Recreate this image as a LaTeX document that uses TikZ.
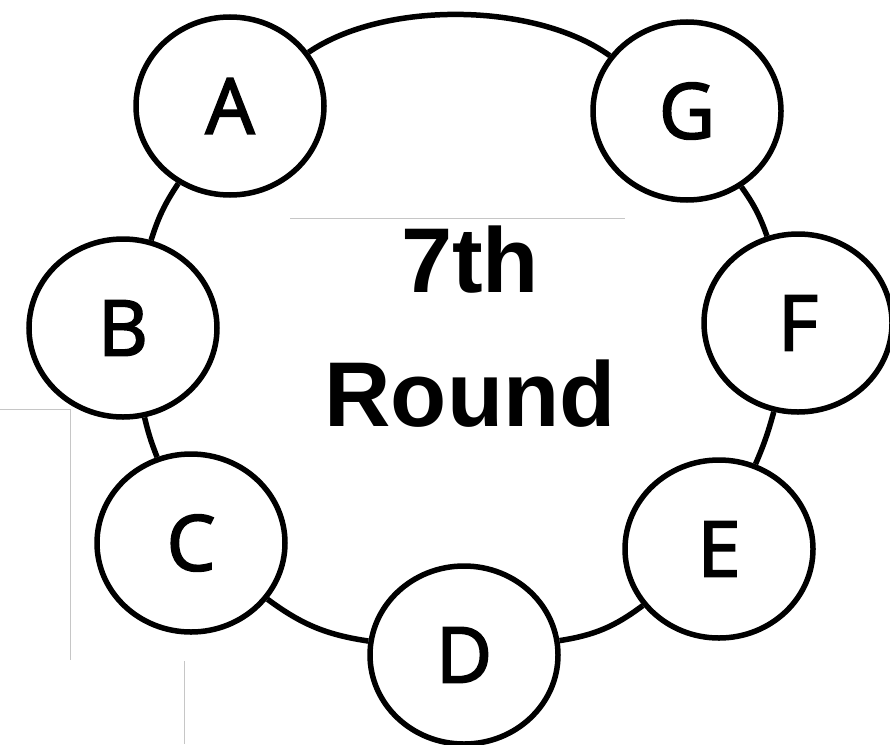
\documentclass[tikz,border=0pt]{standalone}
\usepackage{fontspec}
\setmainfont{Liberation Sans}
\newfontfamily\seatfont{Open Sans}[FakeBold=2.5]
\usepackage{tikz}
\usetikzlibrary{shapes.geometric}

\begin{document}
\begin{tikzpicture}[x=1pt, y=-1pt, line width=5.5pt,
    seat/.style={draw, ellipse, fill=white, inner sep=0pt, minimum width=188pt, minimum height=178pt, font=\seatfont\fontsize{77}{77}\selectfont},
    link/.style={line width=5.5pt},
    scan/.style={draw=gray!45, line width=0.7pt}]
    \useasboundingbox (0,0) rectangle (890,744);
    % faint scan edges
    \draw[scan] (290,218) -- (625,218);
    \draw[scan] (0,409) -- (70,409) -- (70,660);
    \draw[scan] (184,661) -- (184,744);
    % the seats
    \node (a) [seat] at (230,106) {A};
    \node (b) [seat] at (123,328) {B};
    \node (c) [seat] at (191,543) {C};
    \node (d) [seat] at (464,655) {D};
    \node (e) [seat] at (719,549) {E};
    \node (f) [seat] at (798,323) {F};
    \node (g) [seat] at (687,111) {G};
    \node (title) [align=center, font=\bfseries\fontsize{92}{134}\selectfont] at (470,327) {7th\\Round};
    % the ring
    \draw[link] (a) to[bend right=8] (b);
    \draw[link] (b) to[bend right=4] (c);
    \draw[link] (c) to[bend right=14] (d);
    \draw[link] (d) to[bend right=14] (e);
    \draw[link] (e) to[bend right=4] (f);
    \draw[link] (f) to[bend right=8] (g);
    \draw[link] (g) to[bend right=35, looseness=0.78] (a);
\end{tikzpicture}
\end{document}
